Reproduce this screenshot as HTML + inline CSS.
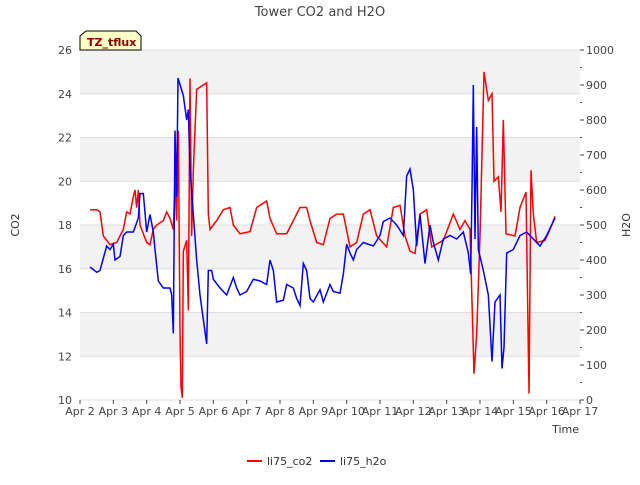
<!DOCTYPE html>
<html><head><meta charset="utf-8"><style>
body{margin:0;background:#fff;font-family:"Liberation Sans","DejaVu Sans",sans-serif}
svg text{font-family:"DejaVu Sans","Liberation Sans",sans-serif}
</style></head><body>
<svg id="c" width="640" height="480" xmlns="http://www.w3.org/2000/svg">
<text x="320" y="16" text-anchor="middle" font-size="13" fill="#444">Tower CO2 and H2O</text>
<g id="grid"></g><g id="series"></g><g id="axes"></g>
<g><path d="M80,50 L80,36 L86,31 L136,31 L141,36 L141,50 Z" fill="#ffffc8" stroke="#000" stroke-width="1"/><text x="87" y="46" font-size="11" font-weight="bold" fill="#8b0000">TZ_tflux</text></g>
<text x="19" y="225" font-size="11" fill="#333" transform="rotate(-90 19 225)" text-anchor="middle">CO2</text>
<text x="630" y="225" font-size="11" fill="#333" transform="rotate(-90 630 225)" text-anchor="middle">H2O</text>
<text x="579" y="433" font-size="11" fill="#333" text-anchor="end">Time</text>
<g>
<line x1="247" y1="461" x2="262" y2="461" stroke="#f00" stroke-width="2"/><text x="267" y="465" font-size="11" fill="#333">li75_co2</text>
<line x1="320" y1="461" x2="335" y2="461" stroke="#00f" stroke-width="2"/><text x="340" y="465" font-size="11" fill="#333">li75_h2o</text>
</g>
</svg>
<script>
const xTicks=["Apr 2","Apr 3","Apr 4","Apr 5","Apr 6","Apr 7","Apr 8","Apr 9","Apr 10","Apr 11","Apr 12","Apr 13","Apr 14","Apr 15","Apr 16","Apr 17"];
const leftTicks=[10,12,14,16,18,20,22,24,26];
const rightTicks=[0,100,200,300,400,500,600,700,800,900,1000];
const co2Days=[0.3,0.5,0.6,0.7,0.9,1.1,1.3,1.4,1.5,1.6,1.65,1.7,1.75,1.8,1.9,2.0,2.1,2.2,2.3,2.5,2.6,2.7,2.8,2.85,2.9,2.95,3.0,3.03,3.07,3.1,3.2,3.25,3.3,3.35,3.4,3.5,3.8,3.85,3.9,4.1,4.3,4.5,4.6,4.8,5.1,5.3,5.5,5.6,5.7,5.9,6.2,6.4,6.6,6.8,6.9,7.1,7.3,7.5,7.7,7.9,8.1,8.3,8.5,8.7,8.9,9.2,9.4,9.6,9.75,9.9,10.05,10.2,10.4,10.55,10.9,11.2,11.4,11.55,11.7,11.82,11.9,12.0,12.12,12.25,12.36,12.42,12.55,12.63,12.7,12.78,13.05,13.2,13.38,13.47,13.53,13.6,13.7,13.95,14.1,14.25];
const co2Vals=[18.7,18.7,18.6,17.5,17.1,17.2,17.8,18.6,18.5,19.3,19.6,18.8,19.6,18.0,17.6,17.2,17.1,17.8,18.0,18.2,18.6,18.3,17.8,20.0,18.2,22.3,13.2,10.6,10.1,16.8,17.3,14.1,24.7,17.5,20.5,24.2,24.5,18.5,17.8,18.2,18.7,18.8,18.0,17.6,17.7,18.8,19.0,19.1,18.3,17.6,17.6,18.2,18.8,18.8,18.2,17.2,17.1,18.3,18.5,18.5,17.0,17.2,18.5,18.7,17.5,17.0,18.8,18.9,17.5,16.8,16.7,18.5,18.7,17.0,17.3,18.5,17.8,18.2,17.8,11.2,13.0,17.5,25.0,23.7,24.0,20.0,20.2,18.6,22.8,17.6,17.5,18.8,19.5,10.3,20.5,18.5,17.2,17.3,17.8,18.4];
const h2oDays=[0.3,0.5,0.6,0.7,0.8,0.9,1.0,1.05,1.2,1.3,1.4,1.6,1.75,1.8,1.9,2.0,2.1,2.2,2.25,2.35,2.5,2.7,2.75,2.8,2.85,2.9,2.94,3.1,3.2,3.25,3.3,3.5,3.6,3.8,3.85,3.95,4.0,4.2,4.4,4.6,4.7,4.8,5.0,5.2,5.4,5.6,5.7,5.8,5.9,6.1,6.2,6.4,6.5,6.6,6.7,6.8,6.9,7.0,7.2,7.3,7.5,7.6,7.8,7.9,8.0,8.1,8.2,8.3,8.5,8.8,9.0,9.1,9.3,9.5,9.7,9.8,9.9,10.0,10.1,10.2,10.35,10.5,10.6,10.75,10.9,11.1,11.3,11.5,11.65,11.72,11.76,11.8,11.85,11.9,11.95,12.1,12.25,12.36,12.45,12.6,12.66,12.72,12.8,13.0,13.2,13.4,13.6,13.8,14.0,14.25];
const h2oVals=[380,365,370,405,440,430,445,400,410,470,480,480,520,590,590,480,530,480,430,340,320,320,300,190,770,580,920,870,800,830,660,400,300,160,370,370,345,320,300,350,320,300,310,345,340,330,400,370,280,285,330,320,290,270,390,370,290,280,315,280,330,310,305,360,445,420,400,430,450,440,470,510,520,500,470,640,660,600,440,530,390,500,450,400,460,470,460,480,420,360,600,900,460,780,430,370,300,110,280,300,90,150,420,430,470,480,460,440,470,520];
const NS="http://www.w3.org/2000/svg";
const X0=80,X1=580,Y0=400,Y1=50;
const xs=d=>X0+d*(X1-X0)/15;
const yl=v=>Y0-(v-10)*(Y0-Y1)/16;
const yr=v=>Y0-v*(Y0-Y1)/1000;
function mk(tag,attrs,parent){const e=document.createElementNS(NS,tag);for(const k in attrs)e.setAttribute(k,attrs[k]);parent.appendChild(e);return e;}
const grid=document.getElementById('grid'),axes=document.getElementById('axes'),series=document.getElementById('series');
mk('rect',{x:X0,y:Y1,width:X1-X0,height:Y0-Y1,fill:'#fff'},grid);
for(let v=12;v<26;v+=4){const b=mk('rect',{x:X0,y:yl(v+2),width:X1-X0,height:yl(v)-yl(v+2),fill:'#f2f2f2'},grid);

}
leftTicks.forEach(v=>{mk('line',{x1:X0,x2:X1,y1:yl(v),y2:yl(v),stroke:'#ddd','stroke-width':1},grid);
const t=mk('text',{x:X0-8,y:yl(v)+4,'text-anchor':'end','font-size':11,fill:'#444'},axes);t.textContent=v;

});
rightTicks.forEach(v=>{mk('line',{x1:X1,x2:X1+4,y1:yr(v),y2:yr(v),stroke:'#444'},axes);
const t=mk('text',{x:X1+6,y:yr(v)+4,'font-size':11,fill:'#444'},axes);t.textContent=v;

});
for(let v=50;v<1000;v+=100)mk('line',{x1:X1,x2:X1+2,y1:yr(v),y2:yr(v),stroke:'#444'},axes);
xTicks.forEach((s,i)=>{mk('line',{x1:xs(i),x2:xs(i),y1:Y0,y2:Y0+4,stroke:'#444'},axes);
const t=mk('text',{x:xs(i),y:Y0+15,'text-anchor':'middle','font-size':11,fill:'#444'},axes);t.textContent=s;

});
const co2=mk('polyline',{points:co2Days.map((d,i)=>xs(d)+','+yl(co2Vals[i])).join(' '),fill:'none',stroke:'#f00','stroke-width':1.5},series);


const h2o=mk('polyline',{points:h2oDays.map((d,i)=>xs(d)+','+yr(h2oVals[i])).join(' '),fill:'none',stroke:'#00f','stroke-width':1.5},series);


</script>
</body></html>
